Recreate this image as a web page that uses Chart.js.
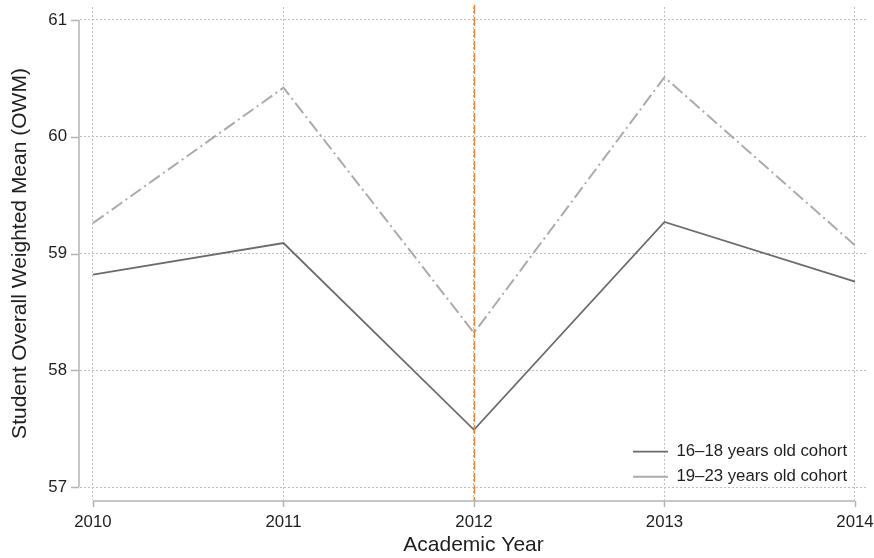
<!DOCTYPE html>
<html>
<head>
<meta charset="utf-8">
<title>Student OWM by academic year</title>
<script src="https://cdn.jsdelivr.net/npm/chart.js@4/dist/chart.umd.min.js"></script>
<style>
  html, body { margin: 0; padding: 0; background: #ffffff; }
  #wrap { position: relative; width: 874px; height: 558px; }
</style>
</head>
<body>
<div id="wrap"><canvas id="chart"></canvas></div>
<script>
// Academic years on the x axis and the policy-change year marked by the vertical line
const years = [2010, 2011, 2012, 2013, 2014];
const referenceYear = 2012;

// Mean OWM per cohort
const cohort1618 = [58.82, 59.09, 57.49, 59.27, 58.76];
const cohort1923 = [59.26, 60.42, 58.32, 60.51, 59.07];

// Axis ticks
const yTicks = [57, 58, 59, 60, 61];

const seriesLabels = ['16\u201318 years old cohort', '19\u201323 years old cohort'];

const FONT = '"Liberation Sans", Arial, Helvetica, sans-serif';
const TEXT = '#1e1e1e';

// Keep tick labels from shrinking the plot region
const noLabelPadding = s => {
  s.paddingLeft = 0; s.paddingRight = 0; s.paddingTop = 0; s.paddingBottom = 0;
};

// Offset axis lines with outward ticks, plus the dashed reference line
const axesPlugin = {
  id: 'offsetAxes',
  beforeDraw(chart) {
    const lg = chart.legend;
    if (lg) {
      lg.left = 624.8; lg.top = 435.1;
      lg.right = lg.left + 250; lg.bottom = lg.top + 80;
    }
  },
  afterDatasetsDraw(chart) {
    const { ctx, chartArea, scales } = chart;
    const x = scales.x, y = scales.y;
    ctx.save();
    const rx = Math.round(x.getPixelForValue(referenceYear)) + 0.5;
    ctx.strokeStyle = '#f5821f';
    ctx.lineWidth = 1.5;
    ctx.setLineDash([9, 3]);
    ctx.beginPath();
    ctx.moveTo(rx, chartArea.top - 2);
    ctx.lineTo(rx, chartArea.bottom + 1);
    ctx.stroke();

    ctx.setLineDash([]);
    ctx.strokeStyle = '#b4b4b4';
    ctx.lineWidth = 1.5;
    ctx.beginPath();
    const ax = chartArea.left - 1;
    ctx.moveTo(ax, y.getPixelForValue(yTicks[yTicks.length - 1]));
    ctx.lineTo(ax, y.getPixelForValue(yTicks[0]));
    yTicks.forEach(v => {
      const py = Math.round(y.getPixelForValue(v)) + 0.5;
      ctx.moveTo(ax - 8, py);
      ctx.lineTo(ax, py);
    });
    const ay = chartArea.bottom + 1;
    ctx.moveTo(x.getPixelForValue(years[0]), ay);
    ctx.lineTo(x.getPixelForValue(years[years.length - 1]), ay);
    years.forEach(v => {
      const px = Math.round(x.getPixelForValue(v)) + 0.5;
      ctx.moveTo(px, ay);
      ctx.lineTo(px, ay + 6);
    });
    ctx.stroke();
    ctx.restore();
  }
};

const toPoints = vals => years.map((yr, i) => ({ x: yr, y: vals[i] }));

new Chart(document.getElementById('chart'), {
  type: 'line',
  data: {
    datasets: [
      {
        label: seriesLabels[0],
        data: toPoints(cohort1618),
        borderColor: '#6b6b6b',
        borderWidth: 1.8,
        pointRadius: 0,
        tension: 0,
        fill: false
      },
      {
        label: seriesLabels[1],
        data: toPoints(cohort1923),
        borderColor: '#ababab',
        borderWidth: 2,
        borderDash: [13, 4, 2, 4],
        pointRadius: 0,
        tension: 0,
        fill: false
      }
    ]
  },
  options: {
    responsive: true,
    maintainAspectRatio: false,
    animation: false,
    layout: { padding: { top: 7, right: 7, left: 0, bottom: 0 } },
    plugins: {
      tooltip: { enabled: false },
      legend: {
        position: 'chartArea',
        align: 'start',
        labels: {
          usePointStyle: true,
          pointStyle: 'line',
          pointStyleWidth: 35,
          padding: 8.2,
          color: TEXT,
          font: { family: FONT, size: 16.8 }
        }
      }
    },
    scales: {
      x: {
        type: 'linear',
        min: 2009.932,
        max: 2014.063,
        afterBuildTicks: s => { s.ticks = years.map(v => ({ value: v })); },
        afterFit: s => { s.height = 58; noLabelPadding(s); },
        grid: { color: '#c0c0c0', lineWidth: 1, drawTicks: false },
        border: { display: false, dash: [2, 2] },
        ticks: {
          color: TEXT,
          padding: 12,
          maxRotation: 0,
          font: { family: FONT, size: 16.8 },
          callback: v => String(v)
        },
        title: {
          display: true,
          text: 'Academic Year',
          color: TEXT,
          padding: { top: 0, bottom: 0 },
          font: { family: FONT, size: 21 }
        }
      },
      y: {
        type: 'linear',
        min: 56.889,
        max: 61.111,
        afterBuildTicks: s => { s.ticks = yTicks.map(v => ({ value: v })); },
        afterFit: s => { s.width = 80; noLabelPadding(s); },
        grid: { color: '#c0c0c0', lineWidth: 1, drawTicks: false },
        border: { display: false, dash: [2, 2] },
        ticks: {
          color: TEXT,
          padding: 13,
          font: { family: FONT, size: 16.8 },
          callback: v => String(v)
        },
        title: {
          display: true,
          text: 'Student Overall Weighted Mean (OWM)',
          color: TEXT,
          padding: { top: 8, bottom: 0 },
          font: { family: FONT, size: 21 }
        }
      }
    }
  },
  plugins: [axesPlugin]
});
</script>
</body>
</html>
